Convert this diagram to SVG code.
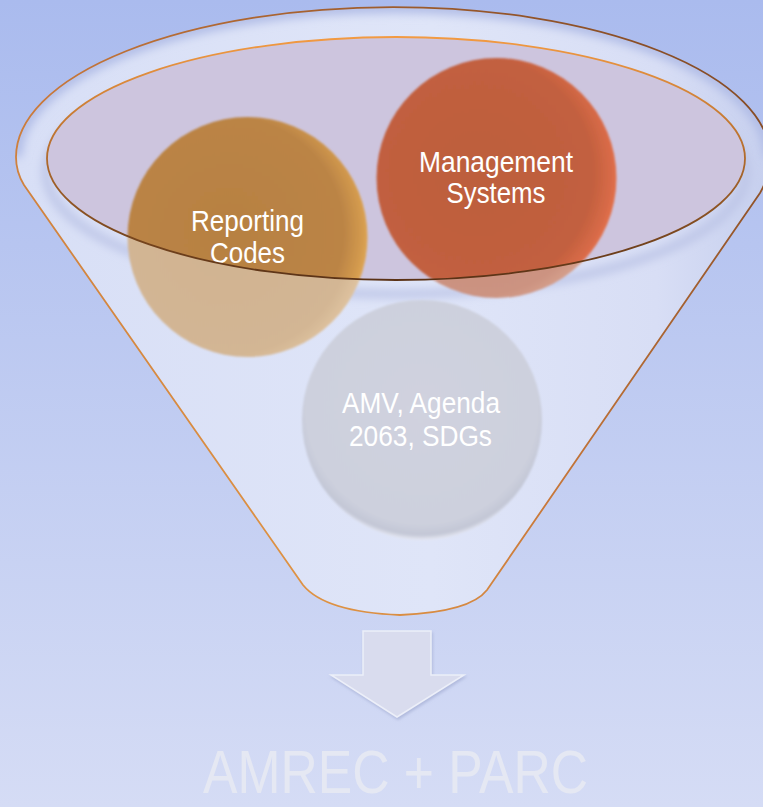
<svg xmlns="http://www.w3.org/2000/svg" width="763" height="807" viewBox="0 0 763 807">
<style>
.lbl{font-family:"Liberation Sans Narrow","Liberation Sans",Arial,sans-serif;font-size:30px;fill:#ffffff;text-anchor:middle}
.big{font-family:"Liberation Sans Narrow","Liberation Sans",Arial,sans-serif;font-size:62px;fill:#e5e8f3;text-anchor:middle}
</style>
<defs>
<linearGradient id="bg" x1="0" y1="0" x2="0" y2="1">
<stop offset="0" stop-color="#aabbee"/>
<stop offset="1" stop-color="#d5dcf5"/>
</linearGradient>
<linearGradient id="body" x1="0" y1="0" x2="1" y2="0">
<stop offset="0" stop-color="#d8dff6"/>
<stop offset="0.55" stop-color="#dfe5f8"/>
<stop offset="0.85" stop-color="#d8def5"/>
<stop offset="1" stop-color="#c6cfee"/>
</linearGradient>
<linearGradient id="funnelStroke" x1="0" y1="1" x2="1" y2="0">
<stop offset="0" stop-color="#f2aa4c"/>
<stop offset="0.45" stop-color="#c8783a"/>
<stop offset="1" stop-color="#7a4422"/>
</linearGradient>
<linearGradient id="ellStroke" x1="0" y1="0" x2="0" y2="1">
<stop offset="0" stop-color="#f29a42"/>
<stop offset="0.45" stop-color="#b8702e"/>
<stop offset="1" stop-color="#5a3216"/>
</linearGradient>
<radialGradient id="mgmt" cx="0.42" cy="0.48" r="0.6">
<stop offset="0" stop-color="#bd5e3e"/>
<stop offset="0.8" stop-color="#c2603f"/>
<stop offset="0.93" stop-color="#d86a47"/>
<stop offset="1" stop-color="#ea7650"/>
</radialGradient>
<radialGradient id="mgmtW" cx="0.42" cy="0.48" r="0.6">
<stop offset="0" stop-color="#c98f7e"/>
<stop offset="0.85" stop-color="#cc9381"/>
<stop offset="1" stop-color="#dba793"/>
</radialGradient>
<radialGradient id="rep" cx="0.42" cy="0.48" r="0.6">
<stop offset="0" stop-color="#b78143"/>
<stop offset="0.8" stop-color="#bb8445"/>
<stop offset="0.93" stop-color="#d39a4e"/>
<stop offset="1" stop-color="#e6ae58"/>
</radialGradient>
<radialGradient id="repW" cx="0.42" cy="0.48" r="0.6">
<stop offset="0" stop-color="#d1b391"/>
<stop offset="0.85" stop-color="#d3b694"/>
<stop offset="1" stop-color="#e2c6a2"/>
</radialGradient>
<radialGradient id="amv" cx="0.5" cy="0.45" r="0.55">
<stop offset="0" stop-color="#d0d2df"/>
<stop offset="0.88" stop-color="#cdd0dd"/>
<stop offset="0.96" stop-color="#c3c7d6"/>
<stop offset="1" stop-color="#e6e8f2"/>
</radialGradient>
<clipPath id="inEll">
<ellipse cx="396" cy="158.5" rx="349" ry="121.5"/>
</clipPath>
<clipPath id="outEll">
<path clip-rule="evenodd" d="M0,0 H763 V807 H0 Z M47,158.5 A349,121.5 0 1 0 745,158.5 A349,121.5 0 1 0 47,158.5 Z"/>
</clipPath>
<clipPath id="funnelClip">
<path d="M16,157 A377,150 0 0 1 770,157 Q770,175 760,193 L487,590 Q470,612 400,615 Q325,612 303,585 L24,185 Q16,172 16,157 Z"/>
</clipPath>
<filter id="soft" x="-5%" y="-5%" width="110%" height="110%">
<feGaussianBlur stdDeviation="0.8"/>
</filter>
<filter id="blur6" x="-10%" y="-10%" width="120%" height="120%">
<feGaussianBlur stdDeviation="5"/>
</filter>
<filter id="shadow" x="-20%" y="-20%" width="140%" height="140%">
<feGaussianBlur in="SourceAlpha" stdDeviation="1.5"/>
<feOffset dx="1" dy="2" result="b"/>
<feFlood flood-color="#9aa4cc" flood-opacity="0.6"/>
<feComposite in2="b" operator="in"/>
<feMerge><feMergeNode/><feMergeNode in="SourceGraphic"/></feMerge>
</filter>
</defs>

<rect x="0" y="0" width="763" height="807" fill="url(#bg)"/>

<g id="funnel">
<path d="M16,157 A377,150 0 0 1 770,157 Q770,175 760,193 L487,590 Q470,612 400,615 Q325,612 303,585 L24,185 Q16,172 16,157 Z" fill="url(#body)"/>
<g clip-path="url(#funnelClip)">
<path d="M16,157 A377,150 0 0 1 770,157" fill="none" stroke="#b0bce6" stroke-width="12" filter="url(#blur6)"/>
<ellipse cx="396" cy="172" rx="350" ry="122" fill="none" stroke="#bcc4e6" stroke-width="8" filter="url(#blur6)"/>
</g>
<ellipse id="mouth" cx="396" cy="158.5" rx="349" ry="121.5" fill="#cdc5de"/>
</g>

<g id="node-reporting">
<circle cx="247.5" cy="237" r="120" fill="url(#repW)" clip-path="url(#outEll)" filter="url(#soft)"/>
<circle cx="247.5" cy="237" r="120" fill="url(#rep)" clip-path="url(#inEll)" filter="url(#soft)"/>
<text class="lbl" x="247.5" y="231" textLength="113" lengthAdjust="spacingAndGlyphs">Reporting</text>
<text class="lbl" x="247.5" y="263" textLength="75" lengthAdjust="spacingAndGlyphs">Codes</text>
</g>

<g id="node-management">
<circle cx="496.5" cy="178" r="120" fill="url(#mgmtW)" clip-path="url(#outEll)" filter="url(#soft)"/>
<circle cx="496.5" cy="178" r="120" fill="url(#mgmt)" clip-path="url(#inEll)" filter="url(#soft)"/>
<text class="lbl" x="496" y="172" textLength="154" lengthAdjust="spacingAndGlyphs">Management</text>
<text class="lbl" x="496" y="203" textLength="99" lengthAdjust="spacingAndGlyphs">Systems</text>
</g>

<g id="node-amv">
<circle cx="422" cy="420" r="120" fill="url(#amv)" filter="url(#soft)"/>
<text class="lbl" x="421" y="413" textLength="158" lengthAdjust="spacingAndGlyphs">AMV, Agenda</text>
<text class="lbl" x="420.5" y="446" textLength="143" lengthAdjust="spacingAndGlyphs">2063, SDGs</text>
</g>

<g id="funnel-outline">
<ellipse cx="396" cy="158.5" rx="349" ry="121.5" fill="none" stroke="url(#ellStroke)" stroke-width="1.8"/>
<path d="M16,157 A377,150 0 0 1 770,157 Q770,175 760,193 L487,590 Q470,612 400,615 Q325,612 303,585 L24,185 Q16,172 16,157 Z" fill="none" stroke="url(#funnelStroke)" stroke-width="1.8"/>
</g>

<g id="connectors">
<polygon points="363,631 431,631 431,675 464,675 397,717 331,675 363,675" fill="#d9dcee" stroke="#eceff9" stroke-width="1.5" filter="url(#shadow)"/>
</g>

<g id="node-output">
<text class="big" x="395.5" y="793" textLength="385" lengthAdjust="spacingAndGlyphs">AMREC + PARC</text>
</g>
</svg>
